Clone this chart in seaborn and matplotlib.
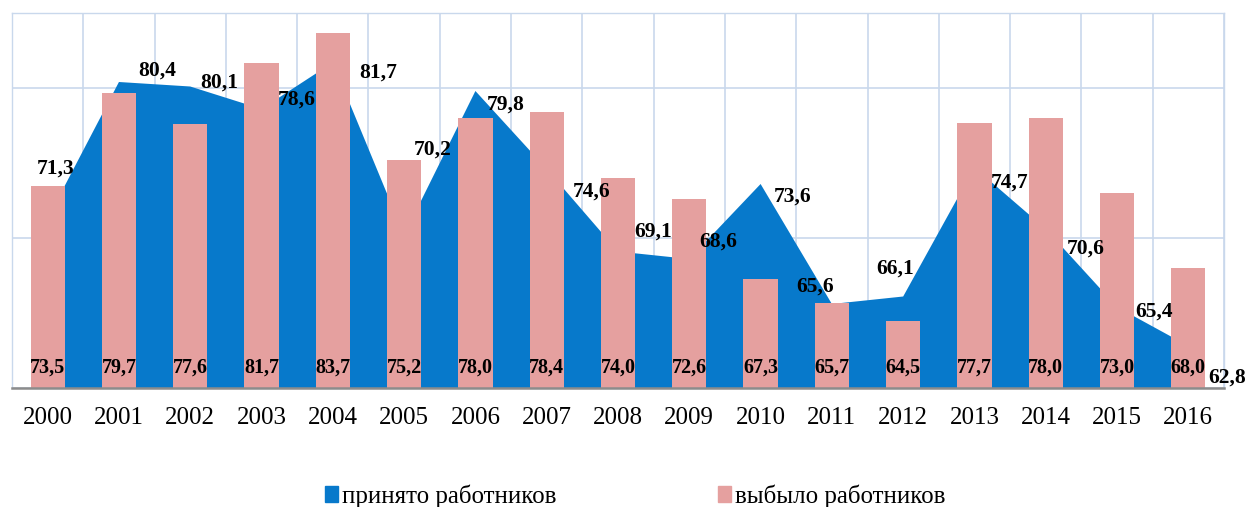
import numpy as np
import matplotlib
matplotlib.use('Agg')
import matplotlib.pyplot as plt
import matplotlib.patches as mpatches
import seaborn as sns

# данные
years = ['2000', '2001', '2002', '2003', '2004', '2005', '2006', '2007', '2008',
         '2009', '2010', '2011', '2012', '2013', '2014', '2015', '2016']
hired = [71.3, 80.4, 80.1, 78.6, 81.7, 70.2, 79.8, 74.6, 69.1,
         68.6, 73.6, 65.6, 66.1, 74.7, 70.6, 65.4, 62.8]
left = [73.5, 79.7, 77.6, 81.7, 83.7, 75.2, 78.0, 78.4, 74.0,
        72.6, 67.3, 65.7, 64.5, 77.7, 78.0, 73.0, 68.0]

# смещения подписей области (в пикселях), как на исходнике
hired_label_offsets = [(8, 50), (38, 11), (29, 4), (35, 9), (45, -10), (29, 85),
                       (30, -14), (45, -23), (35, 20), (29, 17), (32, -13),
                       (-17, 17), (-8, 28), (35, -15), (40, -20), (37, -5), (39, -32)]

BLUE = '#0779CB'
PINK = '#E5A09F'
GRID = '#C9D8EC'

sns.set_style('white')
plt.rcParams['font.family'] = ['Liberation Serif', 'DejaVu Serif']
plt.rcParams['text.color'] = 'black'
plt.rcParams['xtick.color'] = 'black'

fig = plt.figure(figsize=(12.48, 5.07), dpi=100)
ax = fig.add_axes([12 / 1248, 119 / 507, 1212 / 1248, 375 / 507])

x = np.arange(len(years))
ax.fill_between(x, 0, hired, color=BLUE, lw=0, zorder=2)
sns.barplot(x=years, y=left, color=PINK, saturation=1, width=0.48, ax=ax,
            zorder=3, linewidth=0, edgecolor='none')

ax.set_xlim(-0.5, len(years) - 0.5)
ax.set_ylim(60, 85)

# сетка
ax.set_yticks([60, 70, 80])
ax.set_yticklabels([])
ax.tick_params(axis='y', length=0)
ax.set_xticks(x)
ax.set_xticks(np.arange(-0.5, len(years)), minor=True)
ax.tick_params(axis='x', which='major', length=0, labelsize=18, pad=14,
               labelcolor='black')
ax.tick_params(axis='x', which='minor', length=7, width=1.5, color='#8C8C8C')
ax.grid(True, which='minor', axis='x', color=GRID, lw=1.2, zorder=0)
ax.grid(True, which='major', axis='y', color=GRID, lw=1.2, zorder=0)
ax.set_axisbelow(True)
for s in ['left', 'right', 'top']:
    ax.spines[s].set_color(GRID)
    ax.spines[s].set_linewidth(1.0)
ax.spines['bottom'].set_color('#8C8C8C')
ax.spines['bottom'].set_linewidth(1.8)
ax.spines['bottom'].set_zorder(5)
ax.set_xlabel('')
ax.set_ylabel('')

# подписи столбцов
for i, v in enumerate(left):
    ax.text(i, 61.35, f'{v:.1f}'.replace('.', ','), ha='center', va='center',
            fontsize=14.5, fontweight='bold', color='black', zorder=6)

# подписи области
for i, v in enumerate(hired):
    dx, dy = hired_label_offsets[i]
    ax.annotate(f'{v:.1f}'.replace('.', ','), (i, v), xytext=(dx, dy),
                textcoords='offset pixels', ha='center', va='center',
                fontsize=15.5, fontweight='bold', color='black', zorder=6,
                annotation_clip=False)

handles = [mpatches.Patch(color=BLUE, label='принято работников'),
           mpatches.Patch(color=PINK, label='выбыло работников')]
leg = fig.legend(handles=handles, loc='center', bbox_to_anchor=(0.509, 1 - 496 / 507),
                 ncol=2, frameon=False, fontsize=18, handlelength=0.5, handleheight=0.6,
                 handletextpad=0.15, columnspacing=6.5)
for t in leg.get_texts():
    t.set_color('black')

fig.savefig('out.png', dpi=100)
